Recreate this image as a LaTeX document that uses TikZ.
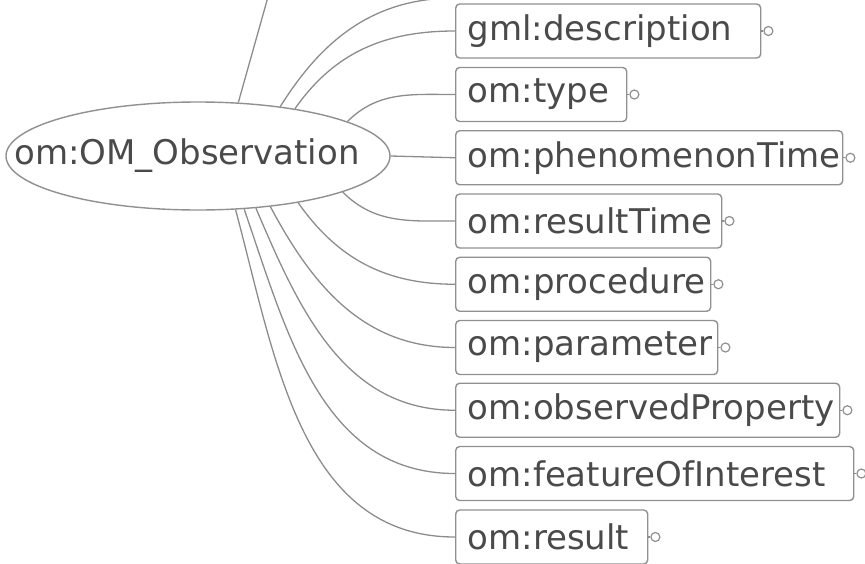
\documentclass[tikz,border=0pt]{standalone}
\usepackage{fontspec}
\setmainfont{DejaVu Sans}
\usetikzlibrary{shapes.geometric}
\definecolor{edgegray}{HTML}{8C8C8C}
\definecolor{boxgray}{HTML}{909090}
\definecolor{txtgray}{HTML}{4A4A4A}
\tikzset{
  conn/.style={draw=edgegray, line width=1.3pt},
  itembox/.style={draw=boxgray, line width=1.4pt, rounded corners=4pt, anchor=west,
    minimum height=54pt, inner xsep=12pt, inner ysep=0pt, align=left,
    text=txtgray, font=\fontsize{34}{40}\selectfont},
  endcirc/.style={draw=boxgray, line width=1.2pt, circle, inner sep=0pt, minimum size=9pt, fill=white},
  rootnode/.style={draw=boxgray, line width=1.4pt, ellipse, inner sep=0pt,
    minimum width=384pt, minimum height=108pt, text=txtgray, font=\fontsize{34}{40}\selectfont}
}
\begin{document}
\begin{tikzpicture}[x=1pt,y=1pt]
\useasboundingbox (0,0) rectangle (865,-563);
\clip (0,0) rectangle (865,-563);

\node[rootnode] (o) at (198,-156) {\makebox[0pt]{\hspace*{-22pt}om:OM\_Observation}};

\coordinate (topbox) at (455,2);
\coordinate (farup) at (284,60);

\node[itembox, text width=281pt] (b1) at (455,-31) {gml:description};
\node[itembox, text width=147pt] (b2) at (455,-94.5) {om:type};
\node[itembox, text width=363pt] (b3) at (455,-157.75) {om:phenomenonTime};
\node[itembox, text width=242pt] (b4) at (455,-221) {om:resultTime};
\node[itembox, text width=231pt] (b5) at (455,-284.25) {om:procedure};
\node[itembox, text width=238pt] (b6) at (455,-347.5) {om:parameter};
\node[itembox, text width=360pt] (b7) at (455,-410.25) {om:observedProperty};
\node[itembox, text width=374pt] (b8) at (455,-473.5) {om:featureOfInterest};
\node[itembox, text width=168pt] (b9) at (455,-537) {om:result};

\foreach \b in {b1,b2,b3,b4,b5,b6,b7,b8,b9}{
  \node[endcirc] (\b c) at ([xshift=7pt]\b.east) {};
  \draw[conn] (\b.east) -- (\b c);
}

\draw[conn] (o.53.5) -- (farup);
\draw[conn] (o.31.4) to[out=58,in=180] (topbox);
\draw[conn] (o.26.3) to[out=55,in=180] (b1.west);
\draw[conn] (o.13.1) to[out=45,in=180] (b2.west);
\draw[conn] (o.east) -- (b3.west);
\draw[conn] (o.-14.1) to[out=-45,in=180] (b4.west);
\draw[conn] (o.-25.9) to[out=-55,in=180] (b5.west);
\draw[conn] (o.-35.8) to[out=-62,in=180] (b6.west);
\draw[conn] (o.-42.4) to[out=-67,in=180] (b7.west);
\draw[conn] (o.-49.7) to[out=-71,in=180] (b8.west);
\draw[conn] (o.-55.1) to[out=-75,in=180] (b9.west);
\end{tikzpicture}
\end{document}
